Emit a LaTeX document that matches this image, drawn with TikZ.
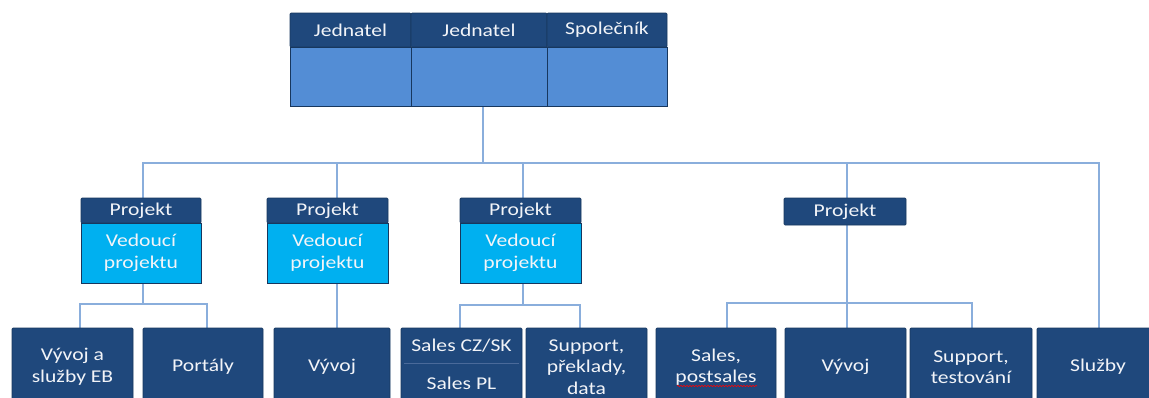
\documentclass[tikz,border=0pt]{standalone}
\usepackage{fontspec}
\setmainfont{Carlito}[FakeStretch=1.2]
\usetikzlibrary{calc,decorations.pathmorphing}
\definecolor{navy}{HTML}{1F487C}
\definecolor{topbody}{HTML}{538DD5}
\definecolor{cyanbody}{HTML}{00B0F0}
\definecolor{connc}{HTML}{8AAEDC}
\definecolor{edgec}{HTML}{17375E}
\definecolor{divc}{HTML}{4A6A9A}
\definecolor{txtc}{HTML}{F2F4F8}
\pgfdeclarelayer{background}
\pgfsetlayers{background,main}
\begin{document}
\begin{tikzpicture}[x=1pt,y=-1pt,
  every node/.style={inner sep=0pt, outer sep=0pt, align=center, text=txtc,
    font=\fontsize{18}{21.5}\selectfont},
  navybox/.style={fill=navy, draw=edgec, line width=0.7pt, rounded corners=1pt},
  topbox/.style={fill=topbody, draw=edgec, line width=0.7pt},
  cyanbox/.style={fill=cyanbody, draw=edgec, line width=0.7pt},
  conn/.style={draw=connc, line width=2pt}]
\useasboundingbox (0,0) rectangle (1149,397);

% top box
\node[navybox, minimum width=121, minimum height=34] (h1) at (350.5,30) {Jednatel};
\node[topbox, minimum width=121, minimum height=59] (b1) at (350.5,76.5) {};
\node[navybox, minimum width=136, minimum height=34] (h2) at (479,30) {Jednatel};
\node[topbox, minimum width=136, minimum height=59] (b2) at (479,76.5) {};
\node[navybox, minimum width=120, minimum height=34] (h3) at (607,30) {Společník};
\node[topbox, minimum width=120, minimum height=59] (b3) at (607,76.5) {};

% projects
\node[navybox, minimum width=120, minimum height=25] (p1h) at (141,210.5) {Projekt};
\node[cyanbox, minimum width=120, minimum height=60] (p1b) at (141,253) {Vedoucí\\projektu};
\node[navybox, minimum width=121, minimum height=25] (p2h) at (327.5,210.5) {Projekt};
\node[cyanbox, minimum width=121, minimum height=60] (p2b) at (327.5,253) {Vedoucí\\projektu};
\node[navybox, minimum width=121, minimum height=25] (p3h) at (520.5,210.5) {Projekt};
\node[cyanbox, minimum width=121, minimum height=60] (p3b) at (520.5,253) {Vedoucí\\projektu};
\node[navybox, minimum width=122, minimum height=27] (p4h) at (845,211.5) {Projekt};

% bottom boxes
\node[navybox, minimum width=121, minimum height=78] (c1) at (72.5,367) {Vývoj a\\služby EB};
\node[navybox, minimum width=120, minimum height=78] (c2) at (203,367) {Portály};
\node[navybox, minimum width=116, minimum height=78] (c3) at (332,367) {Vývoj};
\node[navybox, minimum width=121, minimum height=78] (c4) at (461.5,367) {};
\node (c4a) at (461.5,346) {Sales CZ/SK};
\node (c4b) at (461.5,383) {Sales PL};
\node[navybox, minimum width=121, minimum height=78] (c5) at (586.5,367) {Support,\\překlady,\\data};
\node[navybox, minimum width=120, minimum height=78] (c6) at (716,367) {Sales,\\postsales};
\node[navybox, minimum width=121, minimum height=78] (c7) at (845.5,367) {Vývoj};
\node[navybox, minimum width=122, minimum height=78] (c8) at (971,367) {Support,\\testování};
\node[navybox, minimum width=122, minimum height=78] (c9) at (1098,367) {Služby};

\draw[divc, line width=1pt] ($(c4.west)+(3,-4)$) -- ($(c4.east)+(-3,-4)$);
\draw[red, line width=0.6pt, decorate, decoration={snake, amplitude=0.7pt, segment length=3pt}]
  ($(c6.center)+(-39,19)$) -- ($(c6.center)+(41,19)$);

\coordinate (bus) at (483,163);
\coordinate (j1) at (143,304);
\coordinate (j3) at (523,305);
\coordinate (j4) at (847,303);

\begin{pgfonlayer}{background}
\draw[conn] ([xshift=4]b2.south) -- (bus);
\draw[conn] ([xshift=2]p1h.north) |- (bus) -| ([xshift=1]c9.north);
\draw[conn] ([xshift=9.5]p2h.north) |- (bus);
\draw[conn] ([xshift=2.5]p3h.north) |- (bus);
\draw[conn] ([xshift=2]p4h.north) |- (bus);
\draw[conn] ([xshift=2]p1b.south) -- (j1);
\draw[conn] ([xshift=7.5]c1.north) |- (j1) -| ([xshift=4]c2.north);
\draw[conn] ([xshift=9.5]p2b.south) -- ([xshift=5]c3.north);
\draw[conn] ([xshift=2.5]p3b.south) -- (j3);
\draw[conn] ([xshift=-1.5]c4.north) |- (j3) -| ([xshift=-6.5]c5.north);
\draw[conn] ([xshift=2]p4h.south) -- (j4);
\draw[conn] ([xshift=11]c6.north) |- (j4) -| ([xshift=1]c8.north);
\draw[conn] (j4) -- ([xshift=1.5]c7.north);
\end{pgfonlayer}
\end{tikzpicture}
\end{document}
